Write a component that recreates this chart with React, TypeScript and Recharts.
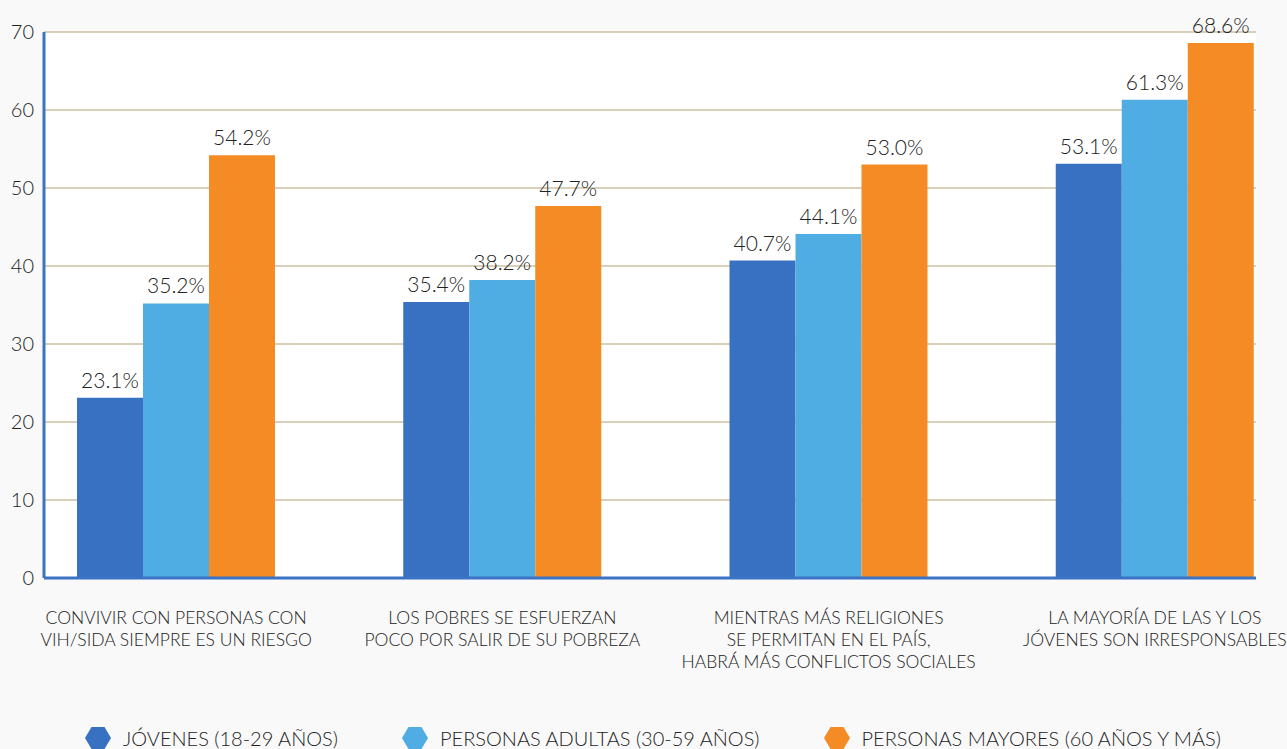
import React from 'react';
import { BarChart, Bar, XAxis, YAxis, CartesianGrid, LabelList, Legend } from 'recharts';

const categorias = [
  'CONVIVIR CON PERSONAS CON|VIH/SIDA SIEMPRE ES UN RIESGO',
  'LOS POBRES SE ESFUERZAN|POCO POR SALIR DE SU POBREZA',
  'MIENTRAS MÁS RELIGIONES|SE PERMITAN EN EL PAÍS,|HABRÁ MÁS CONFLICTOS SOCIALES',
  'LA MAYORÍA DE LAS Y LOS|JÓVENES SON IRRESPONSABLES'
];
const jovenes = [23.1, 35.4, 40.7, 53.1];
const adultas = [35.2, 38.2, 44.1, 61.3];
const mayores = [54.2, 47.7, 53.0, 68.6];
const ticksY = [0, 10, 20, 30, 40, 50, 60, 70];

const series = [
  { key: 'jovenes', name: 'JÓVENES (18-29 AÑOS)', color: '#3870c2' },
  { key: 'adultas', name: 'PERSONAS ADULTAS (30-59 AÑOS)', color: '#4fade3' },
  { key: 'mayores', name: 'PERSONAS MAYORES (60 AÑOS Y MÁS)', color: '#f58b25' }
];

const data = categorias.map((c, i) => ({
  categoria: c,
  jovenes: jovenes[i],
  adultas: adultas[i],
  mayores: mayores[i]
}));

const FONT = 'Lato, "Open Sans", sans-serif';
const TEXT = '#222222';

const CategoryTick = (props: any) => {
  const { x, y, payload } = props;
  const lines = String(payload.value).split('|');
  return (
    <text x={x} y={y} textAnchor="middle" fill={TEXT} fontSize={17.5} fontFamily={FONT} fontWeight={300}>
      {lines.map((l, i) => (
        <tspan key={i} x={x} dy={i === 0 ? 46 : 22}>{l}</tspan>
      ))}
    </text>
  );
};

const Hexagon = ({ color }: { color: string }) => (
  <svg width={26} height={22} style={{ display: 'block' }}>
    <polygon points="0,11 6.5,0 19.5,0 26,11 19.5,22 6.5,22" fill={color} />
  </svg>
);

const LegendContent = () => (
  <div style={{ display: 'flex', alignItems: 'center', paddingLeft: 85, fontFamily: FONT, fontWeight: 300, fontSize: 20, color: TEXT }}>
    {series.map((s) => (
      <div key={s.key} style={{ display: 'flex', alignItems: 'center', marginRight: 64 }}>
        <Hexagon color={s.color} />
        <span style={{ marginLeft: 12, lineHeight: '24px' }}>{s.name}</span>
      </div>
    ))}
  </div>
);

export default function App() {
  return (
    <div style={{ position: 'absolute', left: 0, top: 0, width: 1287, height: 749, background: '#f9f9f9', overflow: 'hidden' }}>
      <BarChart
        width={1287}
        height={749}
        data={data}
        margin={{ top: 32, right: 31, bottom: 71, left: 0 }}
        barGap={0}
        barSize={66}
      >
        <CartesianGrid vertical={false} stroke="#cbc0a4" strokeWidth={1.5} fill="#ffffff" />
        <XAxis
          dataKey="categoria"
          tick={<CategoryTick />}
          tickLine={false}
          tickSize={0}
          tickMargin={0}
          height={100}
          interval={0}
          padding={{ left: -31, right: -62 }}
          axisLine={{ stroke: '#3b73c5', strokeWidth: 3 }}
        />
        <YAxis
          domain={[0, 70]}
          ticks={ticksY}
          width={44}
          tickLine={false}
          tickSize={0}
          tickMargin={10}
          axisLine={{ stroke: '#3b73c5', strokeWidth: 3 }}
          tick={{ fill: TEXT, fontSize: 20, fontFamily: FONT, fontWeight: 300 }}
        />
        <Legend
          layout="horizontal"
          verticalAlign="middle"
          align="center"
          content={<LegendContent />}
          wrapperStyle={{ top: 726, left: 0, width: 1287 }}
        />
        {series.map((s) => (
          <Bar key={s.key} dataKey={s.key} name={s.name} fill={s.color} isAnimationActive={false}>
            <LabelList
              dataKey={s.key}
              position="top"
              offset={10}
              fill={TEXT}
              fontSize={21}
              fontFamily={FONT}
              fontWeight={300}
              formatter={(v: any) => Number(v).toFixed(1) + '%'}
            />
          </Bar>
        ))}
      </BarChart>
    </div>
  );
}
